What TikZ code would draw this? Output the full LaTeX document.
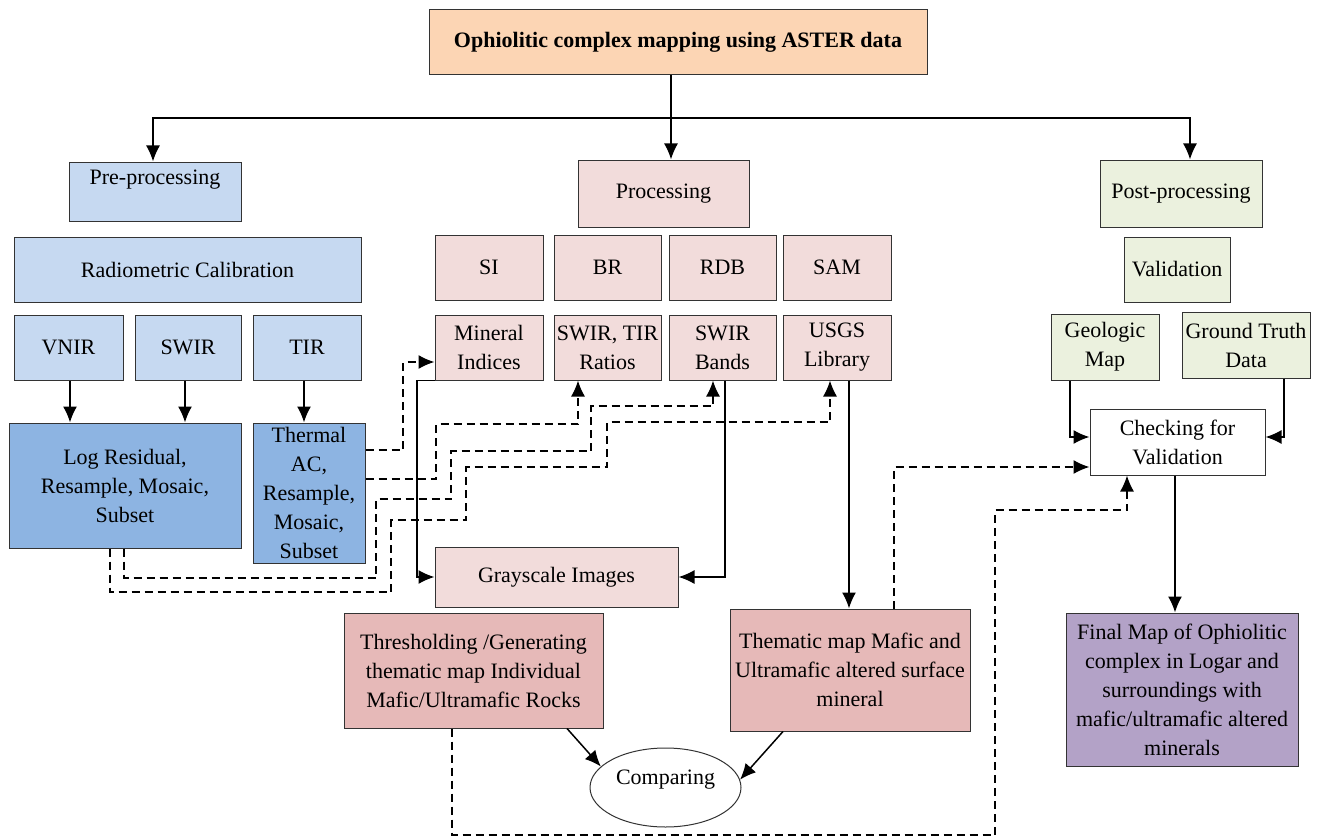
\documentclass[tikz,border=0pt]{standalone}
\usepackage{fontspec}
\setmainfont{Liberation Serif}
\usepackage{tikz}
\usetikzlibrary{arrows.meta,shapes.geometric,calc}
\usepackage{xcolor}
\definecolor{TitlePeach}{RGB}{252,213,180}
\definecolor{PreBlue}{RGB}{198,217,241}
\definecolor{MidBlue}{RGB}{141,180,226}
\definecolor{ProcPink}{RGB}{242,220,219}
\definecolor{RosePink}{RGB}{230,185,184}
\definecolor{PostGreen}{RGB}{235,241,222}
\definecolor{FinalLilac}{RGB}{179,162,199}

\begin{document}
\begin{tikzpicture}[x=1pt,y=-1pt,
  blk/.style={draw=black!80,line width=1pt,align=center,
              font=\fontsize{22}{29}\selectfont,inner sep=1pt},
  preblk/.style={blk,fill=PreBlue},
  procblk/.style={blk,fill=ProcPink},
  postblk/.style={blk,fill=PostGreen},
  sline/.style={line width=1.5pt},
  arr/.style={sline,-{Latex[length=16pt,width=14pt]}},
  dline/.style={arr,dash pattern=on 8pt off 5pt},
]
\useasboundingbox (0,0) rectangle (1317,840);

% top level
\node[blk,fill=TitlePeach,minimum width=498pt,minimum height=65pt,
      font=\fontsize{22}{29}\selectfont\bfseries] (title) at (678,42.5)
  {Ophiolitic complex mapping using ASTER data};
\node[preblk,minimum width=172pt,minimum height=59pt] (pre) at (155,191.5) {Pre-processing\\\mbox{}};
\node[procblk,minimum width=171pt,minimum height=67pt] (proc) at (663.5,193.5) {Processing};
\node[postblk,minimum width=162pt,minimum height=67pt] (post) at (1181,193.5) {Post-processing};

% pre-processing column
\node[preblk,minimum width=347pt,minimum height=65pt] (radio) at (187.5,269.5) {Radiometric Calibration};
\node[preblk,minimum width=109pt,minimum height=65pt] (vnir) at (68.5,347.5) {VNIR};
\node[preblk,minimum width=106pt,minimum height=65pt] (swir) at (188,347.5) {SWIR};
\node[preblk,minimum width=108pt,minimum height=65pt] (tir) at (307,347.5) {TIR};
\node[blk,fill=MidBlue,minimum width=232pt,minimum height=125pt] (logres) at (125,485.5)
  {Log Residual,\\Resample, Mosaic,\\Subset};
\node[blk,fill=MidBlue,minimum width=112pt,minimum height=140pt] (therm) at (309,493)
  {Thermal\\AC,\\Resample,\\Mosaic,\\Subset};

% processing column
\node[procblk,minimum width=108pt,minimum height=65pt] (si) at (489,267.5) {SI};
\node[procblk,minimum width=107pt,minimum height=65pt] (br) at (607.5,267.5) {BR};
\node[procblk,minimum width=107pt,minimum height=65pt] (rdb) at (722.5,267.5) {RDB};
\node[procblk,minimum width=108pt,minimum height=65pt] (sam) at (837,267.5) {SAM};
\node[procblk,minimum width=108pt,minimum height=65pt] (mineral) at (489,347.5) {Mineral\\Indices};
\node[procblk,minimum width=107pt,minimum height=65pt] (ratios) at (607.5,347.5) {SWIR, TIR\\Ratios};
\node[procblk,minimum width=107pt,minimum height=65pt] (bands) at (722.5,347.5) {SWIR\\Bands};
\node[procblk,minimum width=108pt,minimum height=65pt] (usgs) at (837,347.5) {USGS\\Library};
\node[procblk,minimum width=243pt,minimum height=60pt] (gray) at (556.5,577) {Grayscale Images};
\node[blk,fill=RosePink,minimum width=259pt,minimum height=115pt] (thresh) at (473.5,670.5)
  {Thresholding /Generating\\thematic map Individual\\Mafic/Ultramafic Rocks};
\node[blk,fill=RosePink,minimum width=240pt,minimum height=122pt] (thematic) at (850,670)
  {Thematic map Mafic and\\Ultramafic altered surface\\mineral};
\node[blk,ellipse,fill=white,minimum width=151pt,minimum height=79pt] (comp) at (665.5,787.5) {Comparing\\[-8pt]\mbox{}};

% post-processing column
\node[postblk,minimum width=106pt,minimum height=65pt] (valid) at (1177,269.5) {Validation};
\node[postblk,minimum width=108pt,minimum height=66pt] (geo) at (1105,347) {Geologic\\Map};
\node[postblk,minimum width=128pt,minimum height=66pt] (ground) at (1246,345) {Ground Truth\\Data};
\node[blk,fill=white,minimum width=175pt,minimum height=66pt] (check) at (1177.5,442) {Checking for\\Validation};
\node[blk,fill=FinalLilac,minimum width=232pt,minimum height=153pt] (final) at (1182,689.5)
  {Final Map of Ophiolitic\\complex in Logar and\\surroundings with\\mafic/ultramafic altered\\minerals};

% main branches
\coordinate (hub) at (671,118);
\draw[sline] ([xshift=-7pt]title.south) -- (hub);
\draw[sline] (153,118) -- (1190,118);
\draw[arr] (hub) -| ([xshift=-2pt]pre.north);
\draw[arr] (hub) -- (hub |- proc.north);
\draw[arr] (hub) -| ([xshift=9pt]post.north);

% pre-processing arrows
\draw[arr] ([xshift=1.5pt]vnir.south) -- ([xshift=1.5pt]vnir.south |- logres.north);
\draw[arr] ([xshift=-3pt]swir.south) -- ([xshift=-3pt]swir.south |- logres.north);
\draw[arr] ([xshift=-3pt]tir.south) -- ([xshift=-3pt]tir.south |- therm.north);

% dashed links into processing
\draw[dline] ([yshift=43pt]therm.east) -| (403,362) -- ([yshift=-14.5pt]mineral.west);
\draw[dline] ([yshift=14pt]therm.east) -| (436,424) -| ([xshift=-29.5pt]ratios.south);
\draw[dline] ([xshift=-1pt]logres.south) |- (376,578) |- (451,499) |- (591,451) |- (713,406)
  -- ([xshift=-9.5pt]bands.south);
\draw[dline] ([xshift=-15pt]logres.south) |- (391,592) |- (466,520) |- (607,467) |- (830,422)
  -- ([xshift=-7pt]usgs.south);

% processing arrows
\draw[arr] (mineral.south west) -| (417,577) -- (gray.west);
\draw[arr] ([xshift=2.5pt]bands.south) |- (gray.east);
\draw[arr] ([xshift=12pt]usgs.south) -- ([xshift=-1pt]thematic.north);
\draw[arr] ([xshift=-36.5pt]thresh.south east) -- (comp.162);
\draw[arr] ([xshift=-67pt]thematic.south) -- (comp.6);

% validation
\draw[arr] ([xshift=-35pt]geo.south) |- ([yshift=5pt]check.west);
\draw[arr] ([xshift=38pt]ground.south) |- ([yshift=5pt]check.east);
\draw[dline] ([xshift=44pt]thematic.north) |- ([yshift=-25pt]check.west);
\draw[dline] ([xshift=-21.5pt]thresh.south) |- (995,835) |- (1127,510) -- ([xshift=-50.5pt]check.south);
\draw[arr] ([xshift=-2.5pt]check.south) -- ([xshift=-2.5pt]check.south |- final.north);
\end{tikzpicture}
\end{document}
